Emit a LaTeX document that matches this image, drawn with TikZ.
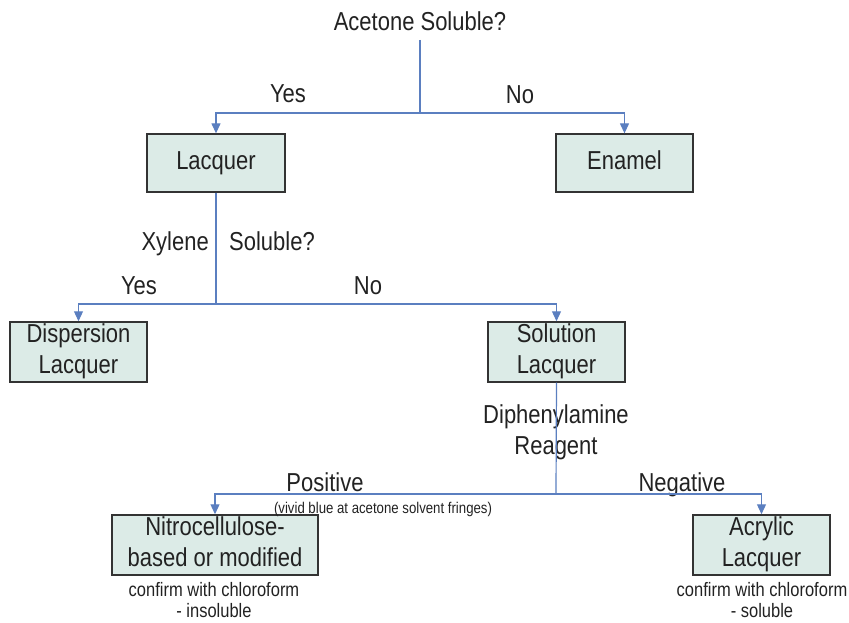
\documentclass[tikz,border=0pt]{standalone}
\usepackage{fontspec}
\setmainfont{Liberation Sans}
\usetikzlibrary{arrows.meta}
\definecolor{boxfill}{HTML}{DCEBE7}
\definecolor{boxline}{HTML}{333333}
\definecolor{conn}{HTML}{5B7FC0}
\definecolor{txt}{HTML}{222222}
\newcommand\sx[1]{\scalebox{1}[1.18]{\begin{tabular}{@{}c@{}}#1\end{tabular}}}
\begin{document}
\begin{tikzpicture}[x=1pt,y=-1pt,
  stepbox/.style={draw=boxline,line width=1.3pt,fill=boxfill,inner sep=0pt,
    font=\fontsize{22}{25.5}\selectfont,text=txt,align=center},
  lbl/.style={font=\fontsize{22}{26}\selectfont,text=txt,inner sep=0pt,align=center},
  small/.style={font=\fontsize{16.5}{17.5}\selectfont,text=txt,inner sep=0pt,align=center},
  tiny/.style={font=\fontsize{13.2}{16}\selectfont,text=txt,inner sep=0pt},
  conn/.style={draw=conn,line width=1.2pt},
  arr/.style={conn,-{Triangle[length=10pt,width=9pt]}}]
\useasboundingbox (0,0) rectangle (849,623);
% boxes
\node[stepbox,minimum width=138pt,minimum height=58pt] (lac) at (216,163) {\sx{Lacquer}};
\node[stepbox,minimum width=137pt,minimum height=58pt] (ena) at (624.5,163) {\sx{Enamel}};
\node[stepbox,minimum width=137pt,minimum height=59pt] (dis) at (78.5,352) {\sx{Dispersion\\Lacquer}};
\node[stepbox,minimum width=137pt,minimum height=59pt] (sol) at (556.5,352) {\sx{Solution\\Lacquer}};
\node[stepbox,minimum width=206pt,minimum height=59pt] (nit) at (215,545) {\sx{Nitrocellulose-\\based or modified}};
\node[stepbox,minimum width=137pt,minimum height=59pt] (acr) at (761.5,545) {\sx{Acrylic\\Lacquer}};
% labels
\node[lbl] (q1) at (420,24) {\sx{Acetone Soluble?}};
\node[lbl] (y1) at (288,96) {\sx{Yes}};
\node[lbl] (n1) at (520,97) {\sx{No}};
\node[lbl,anchor=east] (q2a) at (209,244) {\sx{Xylene}};
\node[lbl,anchor=west] (q2b) at (229,244) {\sx{Soluble?}};
\node[lbl] (y2) at (139,288) {\sx{Yes}};
\node[lbl] (n2) at (368,288) {\sx{No}};
\node[lbl] (q3) at (556,433) {\sx{Diphenylamine\\Reagent}};
\node[lbl] (pos) at (325,485) {\sx{Positive}};
\node[lbl] (neg) at (682,485) {\sx{Negative}};
\node[tiny] (viv) at (383,509) {\scalebox{1}[1.18]{(vivid blue at acetone solvent fringes)}};
\node[small] (c1) at (214,603) {\sx{confirm with chloroform\\- insoluble}};
\node[small] (c2) at (762,603) {\sx{confirm with chloroform\\- soluble}};
% connectors
\coordinate (j1) at (420,113);
\coordinate (j2) at (216,304);
\coordinate (j3) at (556,494);
\draw[conn] (420,40) -- (j1);
\draw[arr] (j1) -| (lac.north);
\draw[arr] (j1) -| (ena.north);
\draw[conn] (lac.south) -- (j2);
\draw[arr] (j2) -| (dis.north);
\draw[arr] (j2) -| (sol.north);
\draw[conn] (sol.south) -- (j3);
\draw[arr] (j3) -| (nit.north);
\draw[arr] (j3) -| (acr.north);
\end{tikzpicture}
\end{document}
